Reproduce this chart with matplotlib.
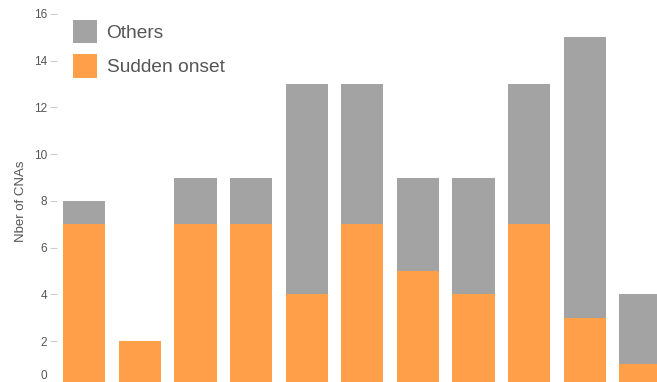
import matplotlib
matplotlib.use("Agg")
import matplotlib.pyplot as plt
from matplotlib.patches import Patch
from matplotlib.transforms import ScaledTranslation
import numpy as np

plt.rcParams["font.family"] = ["Liberation Sans", "DejaVu Sans"]

GREY = "#a3a3a3"
ORANGE = "#ff9f4a"
TEXT = "#555555"
TICK = "#cccccc"

# CNA counts per group, stacked: sudden onset at the bottom, others above
sudden_onset = [7, 2, 7, 7, 4, 7, 5, 4, 7, 3, 1]
others = [1, 0, 2, 2, 9, 6, 4, 5, 6, 12, 3]
y_ticks = [0, 2, 4, 6, 8, 10, 12, 14, 16]

fig = plt.figure(figsize=(6.57, 3.82), dpi=100, facecolor="white")
ax = fig.add_axes([0.0868, -0.0152, 0.93, 0.9786])

x = np.arange(len(sudden_onset))
ax.bar(x, sudden_onset, width=0.76, color=ORANGE, linewidth=0)
ax.bar(x, others, width=0.76, bottom=sudden_onset, color=GREY, linewidth=0)

ax.set_ylim(0, 16)
ax.set_xlim(-0.49, 10.5)
ax.set_yticks(y_ticks)
ax.set_xticks([])
for spine in ax.spines.values():
    spine.set_visible(False)
ax.tick_params(axis="y", colors=TICK, labelcolor=TEXT, labelsize=8.5,
               length=5, width=0.8, pad=2)
ax.set_ylabel("Nber of CNAs", color=TEXT, fontsize=9.5, labelpad=5)

# lift the baseline label so it stays inside the canvas
zero = ax.get_yticklabels()[0]
zero.set_transform(zero.get_transform()
                   + ScaledTranslation(0, 13 / 100, fig.dpi_scale_trans))

handles = [Patch(facecolor=GREY, edgecolor="none", label="Others"),
           Patch(facecolor=ORANGE, edgecolor="none", label="Sudden onset")]
leg = fig.legend(handles=handles, loc="upper left",
                 bbox_to_anchor=(73 / 657, 1 - 20 / 382),
                 frameon=False, fontsize=13.8, handlelength=1.25,
                 handleheight=1.5, handletextpad=0.5, labelspacing=0.57,
                 borderpad=0, borderaxespad=0)
for t in leg.get_texts():
    t.set_color(TEXT)

fig.savefig("out.png", dpi=100, facecolor="white")
